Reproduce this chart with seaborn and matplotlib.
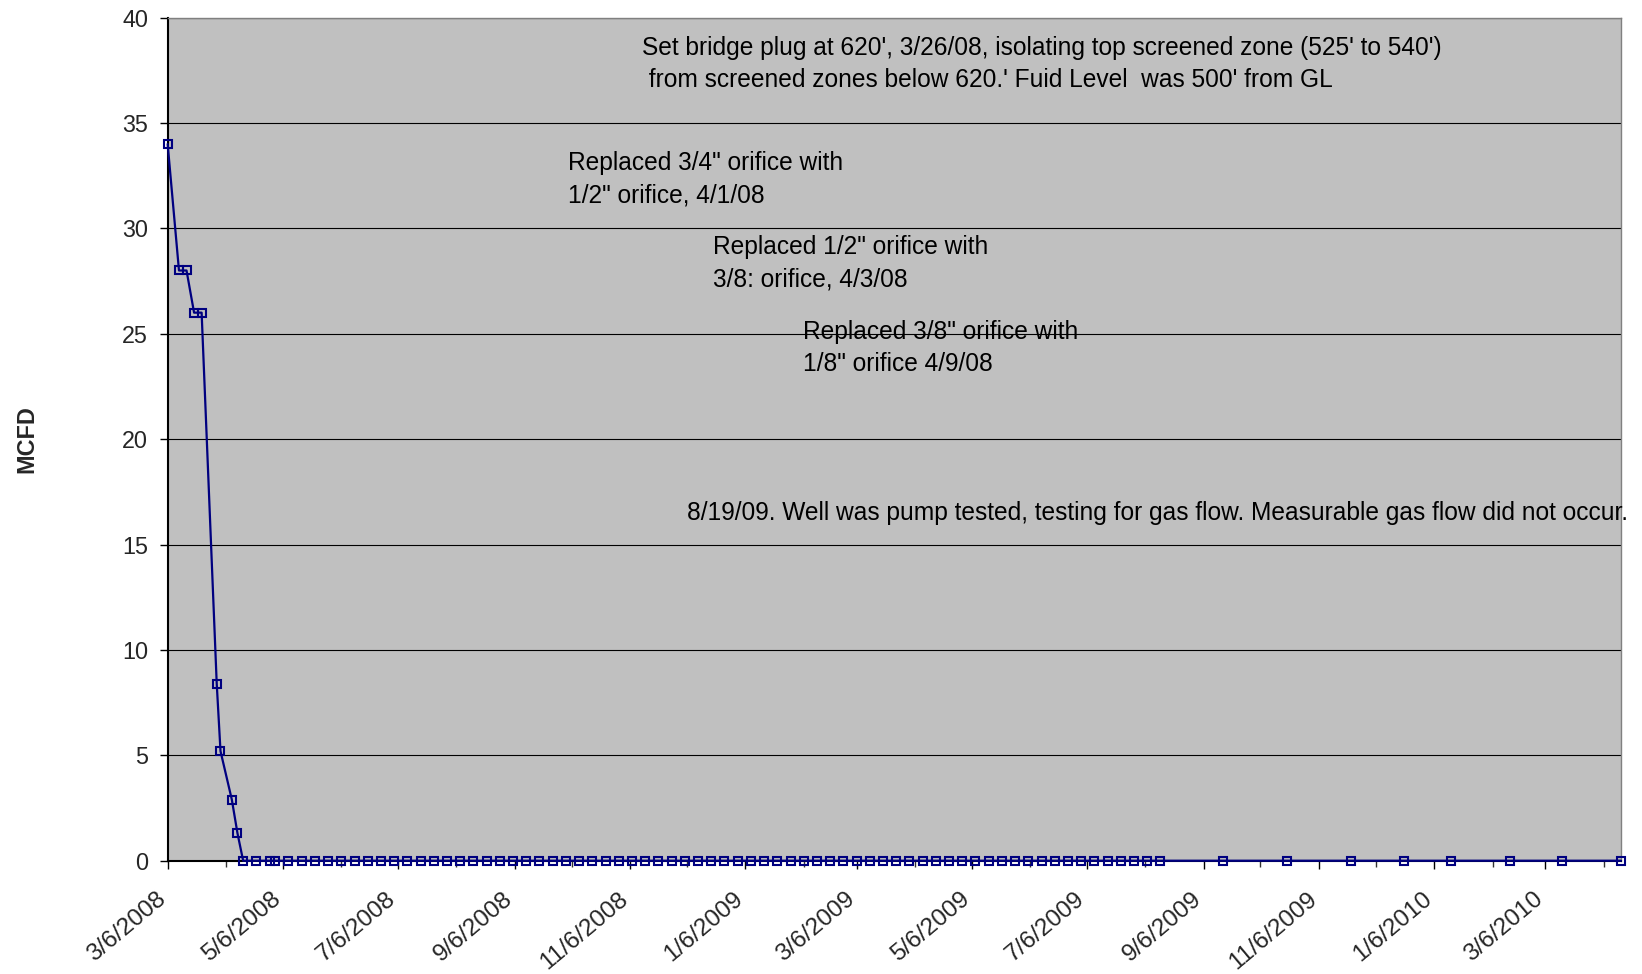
import pandas as pd
import matplotlib
matplotlib.use("Agg")
import matplotlib.pyplot as plt
import matplotlib.dates as mdates
from matplotlib.ticker import FuncFormatter, MultipleLocator
from matplotlib.transforms import ScaledTranslation
import seaborn as sns

# gas flow readings (MCFD)
early_dates = ["2008-03-06", "2008-03-12", "2008-03-16", "2008-03-20", "2008-03-24",
               "2008-04-01", "2008-04-03", "2008-04-09", "2008-04-12", "2008-04-15",
               "2008-04-22", "2008-04-29"]
early_mcfd = [34, 28, 28, 26, 26, 8.4, 5.2, 2.9, 1.3, 0, 0, 0]

weekly_dates = ["2008-05-02", "2008-05-09", "2008-05-16", "2008-05-23", "2008-05-30",
                "2008-06-06", "2008-06-13", "2008-06-20", "2008-06-27", "2008-07-04",
                "2008-07-11", "2008-07-18", "2008-07-25", "2008-08-01", "2008-08-08",
                "2008-08-15", "2008-08-22", "2008-08-29", "2008-09-05", "2008-09-12",
                "2008-09-19", "2008-09-26", "2008-10-03", "2008-10-10", "2008-10-17",
                "2008-10-24", "2008-10-31", "2008-11-07", "2008-11-14", "2008-11-21",
                "2008-11-28", "2008-12-05", "2008-12-12", "2008-12-19", "2008-12-26",
                "2009-01-02", "2009-01-09", "2009-01-16", "2009-01-23", "2009-01-30",
                "2009-02-06", "2009-02-13", "2009-02-20", "2009-02-27", "2009-03-06",
                "2009-03-13", "2009-03-20", "2009-03-27", "2009-04-03", "2009-04-10",
                "2009-04-17", "2009-04-24", "2009-05-01", "2009-05-08", "2009-05-15",
                "2009-05-22", "2009-05-29", "2009-06-05", "2009-06-12", "2009-06-19",
                "2009-06-26", "2009-07-03", "2009-07-10", "2009-07-17", "2009-07-24",
                "2009-07-31", "2009-08-07", "2009-08-14"]
weekly_mcfd = [0] * len(weekly_dates)

late_dates = ["2009-09-16", "2009-10-20", "2009-11-23", "2009-12-21", "2010-01-15",
              "2010-02-15", "2010-03-15", "2010-04-15"]
late_mcfd = [0, 0, 0, 0, 0, 0, 0, 0]

notes = [
    "Set bridge plug at 620', 3/26/08, isolating top screened zone (525' to 540')\n"
    " from screened zones below 620.' Fuid Level  was 500' from GL",
    "Replaced 3/4\" orifice with\n1/2\" orifice, 4/1/08",
    "Replaced 1/2\" orifice with\n3/8: orifice, 4/3/08",
    "Replaced 3/8\" orifice with\n1/8\" orifice 4/9/08",
    "8/19/09. Well was pump tested, testing for gas flow. Measurable gas flow did not occur.",
]
# anchor = baseline of the last line, in axes fraction
note_xy = [(0.3263, 0.9175), (0.2752, 0.7809), (0.3753, 0.6816), (0.4373, 0.5811), (0.3574, 0.4035)]

df = pd.DataFrame({
    "date": pd.to_datetime(early_dates + weekly_dates + late_dates),
    "mcfd": early_mcfd + weekly_mcfd + late_mcfd,
})

sns.set_style("white")
plt.rcParams["font.family"] = ["Liberation Sans", "DejaVu Sans"]
FS = 16.8
XFS = 17.6
NOTE_FS = 17.65
navy = "#000080"

fig = plt.figure(figsize=(16.42, 9.74), dpi=100)
ax = fig.add_axes([0.1021, 0.1163, 0.8851, 0.8657])
ax.set_facecolor("#C0C0C0")

sns.lineplot(data=df, x="date", y="mcfd", ax=ax, color=navy, linewidth=1.6,
             marker="s", markersize=6.2, markerfacecolor="none",
             markeredgecolor=navy, markeredgewidth=1.5, clip_on=False, zorder=5)

ax.set_ylim(0, 40)
ax.yaxis.set_major_locator(MultipleLocator(5))
ax.set_xlim(pd.Timestamp("2008-03-06"), pd.Timestamp("2010-04-15"))
ax.xaxis.set_major_locator(mdates.MonthLocator(bymonthday=6, interval=2))
ax.xaxis.set_minor_locator(mdates.MonthLocator(bymonthday=6))
ax.xaxis.set_major_formatter(FuncFormatter(
    lambda v, p: "{0.month}/{0.day}/{0.year}".format(mdates.num2date(v))))

ax.set_axisbelow(True)
ax.yaxis.grid(True, color="black", linewidth=0.8)
ax.xaxis.grid(False)

for side in ["left", "bottom"]:
    ax.spines[side].set_color("black")
    ax.spines[side].set_linewidth(1.5)
for side in ["top", "right"]:
    ax.spines[side].set_color("#808080")
    ax.spines[side].set_linewidth(1.0)

ax.tick_params(axis="y", which="major", left=True, direction="out", length=6, width=1,
               color="black", labelsize=FS, pad=8)
ax.tick_params(axis="x", which="major", bottom=True, direction="out", length=6, width=1,
               color="black", labelsize=XFS, pad=13.5)
ax.tick_params(axis="x", which="minor", bottom=True, direction="out", length=4, width=1,
               color="#333333")

shift = ScaledTranslation(-12 / 100, 0, fig.dpi_scale_trans)
for lab in ax.get_xticklabels():
    lab.set_rotation(40)
    lab.set_ha("right")
    lab.set_va("top")
    lab.set_rotation_mode("anchor")
    lab.set_transform(lab.get_transform() + shift)

ax.set_xlabel("")
ax.set_ylabel("MCFD", fontsize=FS, fontweight="bold")
ax.yaxis.set_label_coords(-0.0889, 0.5)

for txt, (tx, ty) in zip(notes, note_xy):
    ax.text(tx, ty, txt, transform=ax.transAxes, fontsize=NOTE_FS, ha="left",
            va="baseline", linespacing=1.42, color="black")

fig.savefig("out.png", dpi=100)
